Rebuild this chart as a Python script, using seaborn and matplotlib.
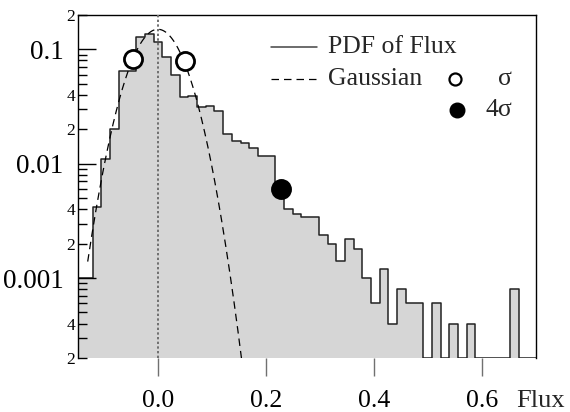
import numpy as np
import pandas as pd
import matplotlib
matplotlib.use("Agg")
import matplotlib.pyplot as plt
import seaborn as sns
from matplotlib.ticker import FixedLocator, FixedFormatter, FuncFormatter, NullLocator

# ---- data -------------------------------------------------------------
bin_width = 0.0161
bin_index = list(range(-9, 44))          # bins centred on k * bin_width
pdf_values = [
    0.0010, 0.0010, 0.0042, 0.0110, 0.0200, 0.0650, 0.0650, 0.1280, 0.1360,   # k = -9 .. -1
    0.1150, 0.0850, 0.0600, 0.0380, 0.0390, 0.0314, 0.0320, 0.0288, 0.0182,   # k = 0 .. 8
    0.0159, 0.0151, 0.0137, 0.0117, 0.0117, 0.0066, 0.0040, 0.0036, 0.0034,   # k = 9 .. 17
    0.0034, 0.0024, 0.0020, 0.0014, 0.0022, 0.0018, 0.0010, 0.0006, 0.0012,   # k = 18 .. 26
    0.0004, 0.0008, 0.0006, 0.0006, 0.0002, 0.0006, 0.0002, 0.0004, 0.0002,   # k = 27 .. 35
    0.0004, 0.0002, 0.0002, 0.0002, 0.0002, 0.0008, 0.0002, 0.0002,           # k = 36 .. 43
]

gauss_amp = 0.15
gauss_mean = 0.0
gauss_sigma = 0.0425
gauss_range = (-0.13, 0.165)

sigma_x = [-0.0464, 0.0495]
sigma_y = [0.082, 0.079]
four_sigma_x = [0.2276]
four_sigma_y = [0.0060]

x_ticks = [0.0, 0.2, 0.4, 0.6]
x_tick_labels = ["0.0", "0.2", "0.4", "0.6"]
y_major_ticks = [0.001, 0.01, 0.1]
y_major_labels = ["0.001", "0.01", "0.1"]
y_minor_labelled = {2: "2", 4: "4"}

# ---- figure -----------------------------------------------------------
sns.set_style("white")
plt.rcParams["font.family"] = ["Liberation Serif", "DejaVu Serif"]

fig = plt.figure(figsize=(5.70, 4.12), dpi=100)
ax = fig.add_axes([0.1368, 0.1311, 0.8036, 0.8325])
ax.set_axisbelow(False)

centers = np.array(bin_index) * bin_width
edges = ((np.arange(bin_index[0], bin_index[-1] + 2) - 0.5) * bin_width).tolist()
df = pd.DataFrame({"flux": centers, "pdf": pdf_values})

sns.histplot(data=df, x="flux", weights="pdf", bins=edges, element="step",
             fill=True, color="#d6d6d6", alpha=1.0, edgecolor="#222222",
             linewidth=1.1, ax=ax, zorder=1)

# Gaussian reference curve
gx = np.linspace(gauss_range[0], gauss_range[1], 400)
gy = gauss_amp * np.exp(-0.5 * ((gx - gauss_mean) / gauss_sigma) ** 2)
sns.lineplot(x=gx, y=gy, ax=ax, color="black", linewidth=0.9, zorder=4,
             linestyle=(0, (6, 4)))

# zero line
ax.axvline(0.0, color="#707070", linewidth=1.4, linestyle=(0, (1.2, 1.2)), zorder=3)

# sigma markers
ax.scatter(sigma_x, sigma_y, s=170, facecolor="white", edgecolor="black",
           linewidth=2.0, zorder=6, clip_on=False)
ax.scatter(four_sigma_x, four_sigma_y, s=170, facecolor="black", edgecolor="black",
           linewidth=2.0, zorder=6)

ax.set_yscale("log")
ax.set_xlim(-0.148, 0.70)
ax.set_ylim(2e-4, 0.2)

# y axis: labelled decades plus "2" and "4" minor labels
ax.yaxis.set_major_locator(FixedLocator(y_major_ticks))
ax.yaxis.set_major_formatter(FixedFormatter(y_major_labels))
minor = []
for e in (-4, -3, -2, -1):
    for m in range(2, 10):
        v = m * 10.0 ** e
        if 2e-4 * 0.999 <= v <= 0.2 * 1.001:
            minor.append(v)
ax.yaxis.set_minor_locator(FixedLocator(minor))


def minor_fmt(v, pos):
    m = int(round(v / 10.0 ** np.floor(np.log10(v) + 1e-9)))
    return y_minor_labelled.get(m, "")


ax.yaxis.set_minor_formatter(FuncFormatter(minor_fmt))

ax.set_xticks(x_ticks)
ax.set_xticklabels(x_tick_labels)
ax.xaxis.set_minor_locator(NullLocator())

ax.tick_params(axis="y", which="major", direction="in", length=13, width=1.0,
               labelsize=19.5, pad=10.5, colors="black", left=True, right=False)
ax.tick_params(axis="y", which="minor", direction="in", length=6.8, width=1.0,
               labelsize=12.5, pad=1.8, colors="black", left=True, right=False)
ax.tick_params(axis="x", which="major", direction="out", length=13, width=1.0,
               labelsize=18.5, pad=10, color="#707070", labelcolor="black",
               bottom=True, top=False)

for side in ("left", "top", "right"):
    ax.spines[side].set_visible(True)
    ax.spines[side].set_color("black")
    ax.spines[side].set_linewidth(1.0)
ax.spines["bottom"].set_visible(False)

ax.set_ylabel("")
ax.set_xlabel("Flux", fontsize=19)
ax.xaxis.set_label_coords(1.064, -0.092)
ax.xaxis.label.set_horizontalalignment("right")

# legend block
tr = ax.transAxes
ax.plot([0.421, 0.521], [0.907, 0.907], color="#444444", linewidth=1.1, transform=tr)
ax.text(0.546, 0.907, "PDF of Flux", transform=tr, fontsize=18.5, va="center", ha="left")
ax.plot([0.421, 0.521], [0.813, 0.813], color="black", linewidth=0.9,
        linestyle=(0, (6, 4)), transform=tr)
ax.text(0.546, 0.813, "Gaussian", transform=tr, fontsize=18.5, va="center", ha="left")
ax.scatter([0.823], [0.813], s=75, facecolor="white", edgecolor="black",
           linewidth=1.6, transform=tr, zorder=6)
ax.text(0.9476, 0.813, "σ", transform=tr, fontsize=18.5, va="center", ha="right")
ax.scatter([0.827], [0.723], s=110, facecolor="black", edgecolor="black",
           linewidth=1.0, transform=tr, zorder=6)
ax.text(0.9476, 0.723, "4σ", transform=tr, fontsize=18.5, va="center", ha="right")

fig.savefig("out.png", dpi=100)
